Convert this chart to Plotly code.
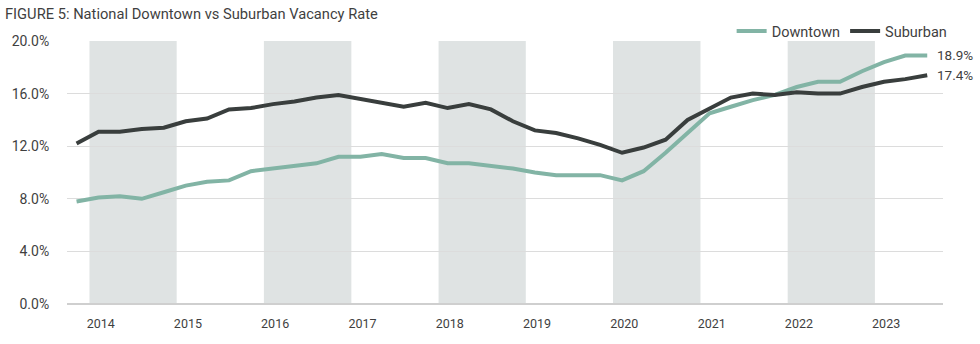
import pandas as pd
import plotly.graph_objects as go

# Quarterly observations (mid-quarter months), Q4 2013 .. Q3 2023
quarters = pd.date_range("2013-11-01", periods=40, freq="3MS")

downtown = [7.8, 8.1, 8.2, 8.0, 8.5, 9.0, 9.3, 9.4, 10.1, 10.3,
            10.5, 10.7, 11.2, 11.2, 11.4, 11.1, 11.1, 10.7, 10.7, 10.5,
            10.3, 10.0, 9.8, 9.8, 9.8, 9.4, 10.1, 11.5, 13.0, 14.5,
            15.0, 15.5, 15.9, 16.5, 16.9, 16.9, 17.7, 18.4, 18.9, 18.9]
suburban = [12.2, 13.1, 13.1, 13.3, 13.4, 13.9, 14.1, 14.8, 14.9, 15.2,
            15.4, 15.7, 15.9, 15.6, 15.3, 15.0, 15.3, 14.9, 15.2, 14.8,
            13.9, 13.2, 13.0, 12.6, 12.1, 11.5, 11.9, 12.5, 14.0, 14.9,
            15.7, 16.0, 15.9, 16.1, 16.0, 16.0, 16.5, 16.9, 17.1, 17.4]

year_labels = ["2014", "2015", "2016", "2017", "2018", "2019", "2020", "2021", "2022", "2023"]
shaded_years = [2014, 2016, 2018, 2020, 2022]
y_ticks = [0, 4, 8, 12, 16, 20]

TEAL = "#82b4a5"
DARK = "#393e3d"
TXT = "#3f3f3f"
FONT = "Roboto"

fig = go.Figure()
fig.add_trace(go.Scatter(x=quarters, y=downtown, mode="lines", name="Downtown",
                         line=dict(color=TEAL, width=4)))
fig.add_trace(go.Scatter(x=quarters, y=suburban, mode="lines", name="Suburban",
                         line=dict(color=DARK, width=4)))

for yr in shaded_years:
    fig.add_shape(type="rect", xref="x", yref="y",
                  x0=f"{yr - 1}-12-25", x1=f"{yr}-12-25", y0=0, y1=20,
                  fillcolor="#dfe3e3", line_width=0, layer="below")

# end labels
for series in (downtown, suburban):
    fig.add_annotation(x=quarters[-1], y=series[-1], text=f"{series[-1]:.1f}%",
                       showarrow=False, xanchor="left", xshift=8,
                       font=dict(family=FONT, size=13.5, color=TXT))

fig.update_layout(
    width=980, height=344,
    margin=dict(l=62, r=37, t=41, b=40),
    paper_bgcolor="white", plot_bgcolor="white",
    title=dict(text="FIGURE 5: National Downtown vs Suburban Vacancy Rate",
               xref="container", yref="container", x=5 / 980, xanchor="left",
               y=1 - 14 / 344, yanchor="middle",
               font=dict(family=FONT, size=14.7, color=TXT)),
    legend=dict(orientation="h", x=1.011, xanchor="right", y=1.038, yanchor="middle",
                font=dict(family=FONT, size=14.5, color=TXT),
                bgcolor="rgba(0,0,0,0)", tracegroupgap=0, itemwidth=30),
    showlegend=True,
)

fig.update_xaxes(type="date", range=["2013-09-22", "2023-10-06"],
                 tickvals=[f"{y}-02-10" for y in year_labels], ticktext=year_labels,
                 showgrid=False, zeroline=False, showline=False,
                 ticks="outside", ticklen=8, tickcolor="rgba(0,0,0,0)",
                 tickfont=dict(family=FONT, size=12.5, color=TXT))
fig.update_yaxes(range=[0, 20], tickvals=y_ticks,
                 ticktext=[f"{v:.1f}%" for v in y_ticks],
                 showgrid=True, gridcolor="#dcdcdc", gridwidth=1,
                 zeroline=True, zerolinecolor="#cfcfcf", zerolinewidth=1.5,
                 ticks="outside", ticklen=14, tickcolor="rgba(0,0,0,0)",
                 tickfont=dict(family=FONT, size=14, color=TXT))

fig.write_html("out.html")
